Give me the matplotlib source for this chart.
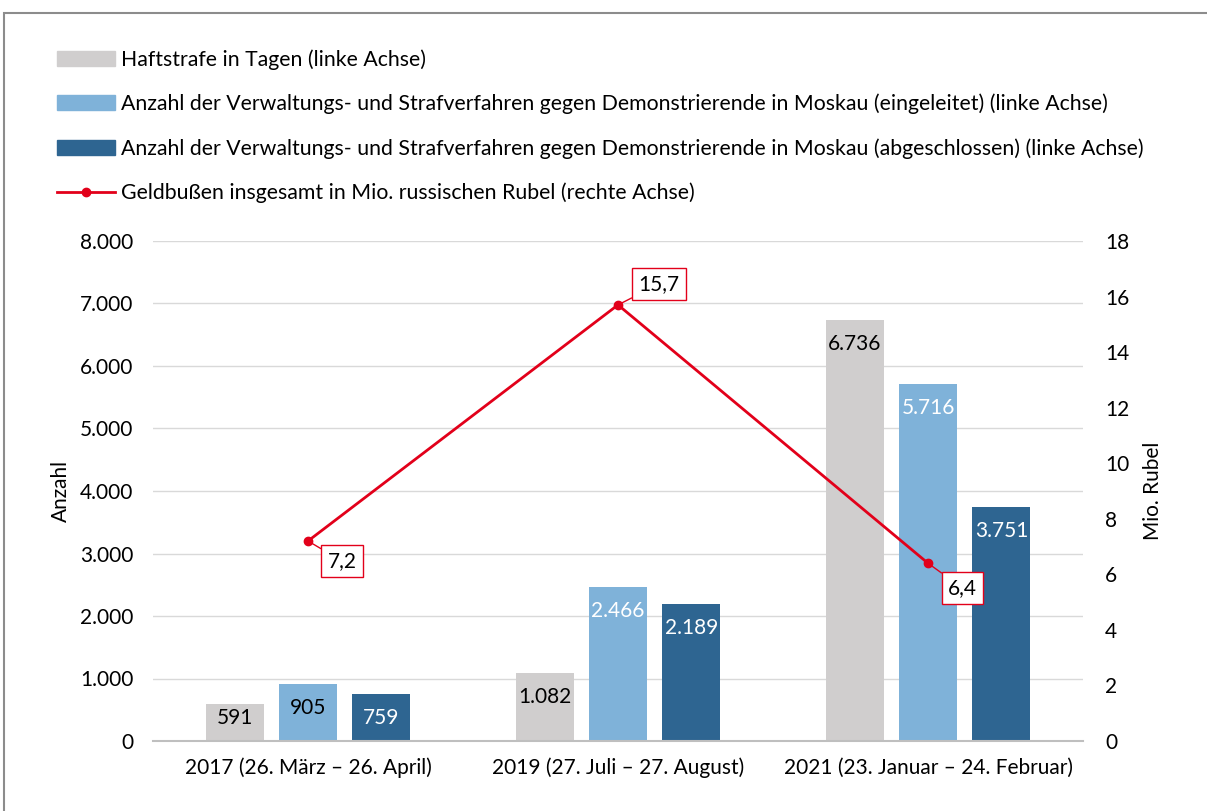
import matplotlib.pyplot as plt
from matplotlib.patches import Patch, Rectangle
from matplotlib.lines import Line2D
import numpy as np

plt.rcParams['font.family'] = ['Lato', 'DejaVu Sans']

# data
categories = ['2017 (26. März – 26. April)', '2019 (27. Juli – 27. August)',
              '2021 (23. Januar – 24. Februar)']
haft = [591, 1082, 6736]
eingeleitet = [905, 2466, 5716]
abgeschlossen = [759, 2189, 3751]
geld = [7.2, 15.7, 6.4]

series_labels = ['Haftstrafe in Tagen (linke Achse)',
                 'Anzahl der Verwaltungs- und Strafverfahren gegen Demonstrierende in Moskau (eingeleitet) (linke Achse)',
                 'Anzahl der Verwaltungs- und Strafverfahren gegen Demonstrierende in Moskau (abgeschlossen) (linke Achse)',
                 'Geldbußen insgesamt in Mio. russischen Rubel (rechte Achse)']

c_gray = '#d0cece'
c_light = '#7fb2d9'
c_dark = '#2e6591'
c_red = '#e2001a'
fs = 15

def fmt(v):
    return f'{v:,}'.replace(',', '.')

fig = plt.figure(figsize=(12.07, 8.11), dpi=100)
ax = fig.add_axes([153/1207, 1-741/811, (1083-153)/1207, (741-241)/811])
ax2 = ax.twinx()

x = np.arange(len(categories))
w = 0.187
step = 0.237
bar_sets = [(haft, c_gray, -step), (eingeleitet, c_light, 0), (abgeschlossen, c_dark, step)]
txt_colors = [['black', 'black', 'black'], ['black', 'white', 'white'], ['white', 'white', 'white']]
for i, (vals, col, off) in enumerate(bar_sets):
    bars = ax.bar(x + off, vals, width=w, color=col, zorder=2)
    for j, b in enumerate(bars):
        # label inside end, kept inside short bars
        ly = max(vals[j] - 384, 368)
        ax.text(b.get_x() + b.get_width()/2, ly, fmt(vals[j]), ha='center', va='center',
                fontsize=fs, color=txt_colors[i][j], zorder=3)

ax.set_xlim(-0.5, 2.5)
ax.set_ylim(0, 8000)
ax.set_yticks(range(0, 8001, 1000))
ax.set_yticklabels([fmt(v) for v in range(0, 8001, 1000)])
ax.set_xticks(x)
ax.set_xticklabels(categories)
ax.grid(axis='y', color='#d9d9d9', linewidth=1, zorder=0)
ax.set_axisbelow(True)
for s in ['top', 'right', 'left']:
    ax.spines[s].set_visible(False)
ax.spines['bottom'].set_color('#bfbfbf')
ax.spines['bottom'].set_linewidth(1.5)
ax.tick_params(axis='both', length=0, labelsize=fs, pad=14)
ax.tick_params(axis='x', pad=12)
ax.set_ylabel('Anzahl', fontsize=fs, labelpad=7)

ax2.plot(x, geld, color=c_red, linewidth=2, marker='o', markersize=6, zorder=4)
ax2.set_ylim(0, 18)
ax2.set_yticks(range(0, 19, 2))
for s in ax2.spines.values():
    s.set_visible(False)
ax2.tick_params(axis='y', length=0, labelsize=fs, pad=16)
ax2.set_ylabel('Mio. Rubel', fontsize=fs, labelpad=10)

offsets = [(24.5, -14.5), (29.5, 15), (25, -18)]
for xi, v, off in zip(x, geld, offsets):
    ax2.annotate(str(v).replace('.', ','), (xi, v), xytext=off, textcoords='offset points',
                 ha='center', va='center', fontsize=fs,
                 bbox=dict(boxstyle='square,pad=0.3', fc='white', ec=c_red, lw=1),
                 arrowprops=dict(arrowstyle='-', color=c_red, lw=1, shrinkA=0, shrinkB=3))

handles = [Patch(color=c_gray), Patch(color=c_light), Patch(color=c_dark),
           Line2D([], [], color=c_red, linewidth=2, marker='o', markersize=6)]
fig.legend(handles, series_labels, loc='upper left', bbox_to_anchor=(57/1207, 1-49/811),
           frameon=False, fontsize=15.3, handlelength=2.75, handletextpad=0.25,
           labelspacing=1.13, borderpad=0, borderaxespad=0)

fig.patches.append(Rectangle((4/1207, -0.1), 1.2, 1.1 - 13/811, transform=fig.transFigure,
                             fill=False, ec='#8c8c8c', lw=1.5))

fig.savefig('out.png', dpi=100)
